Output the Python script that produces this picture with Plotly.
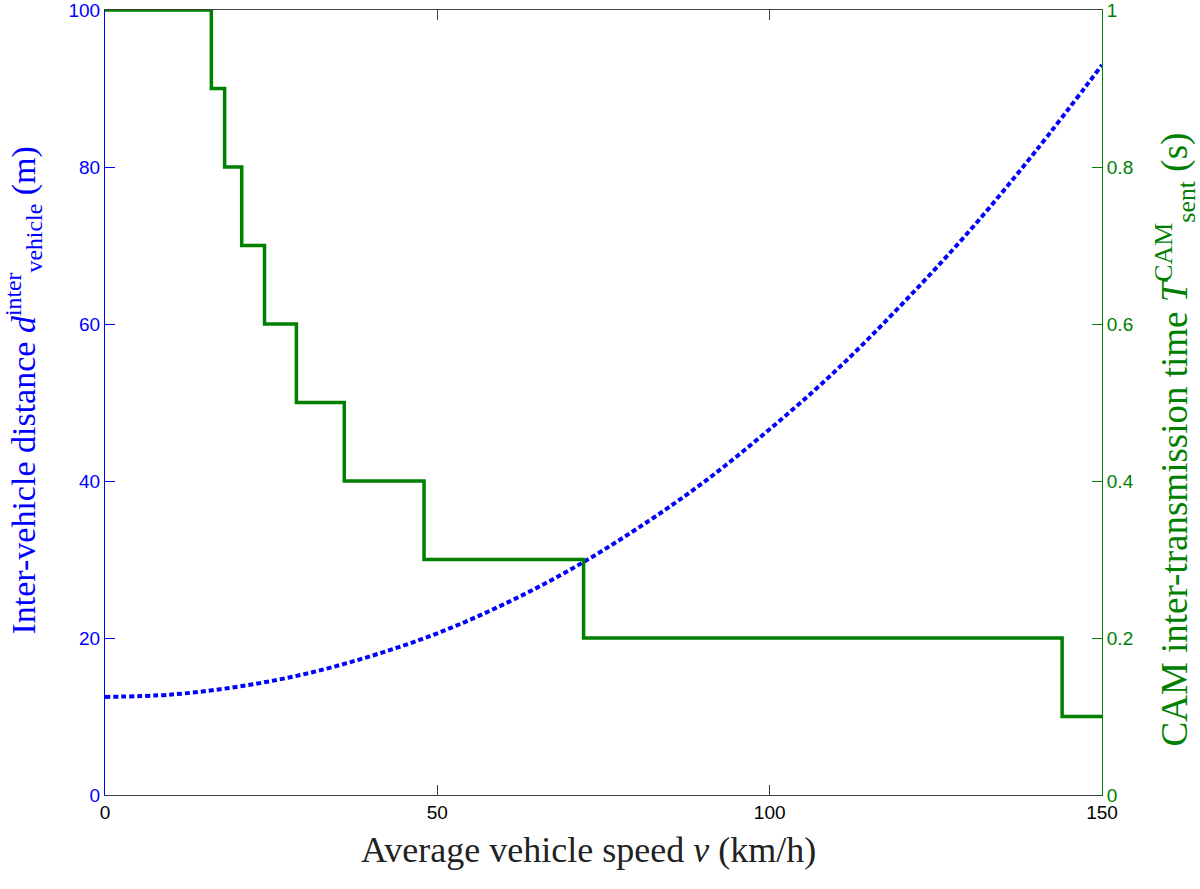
import plotly.graph_objects as go

# average vehicle speed (km/h) sampled for the distance curve
speed = [0, 10, 20, 30, 40, 50, 60, 70, 80, 90, 100, 110, 120, 130, 140, 150]
# inter-vehicle distance (m)
distance = [12.5, 12.8, 13.8, 15.4, 17.7, 20.6, 24.3, 28.7, 33.9, 39.8,
            46.6, 54.1, 62.6, 71.8, 82.0, 93.0]

# CAM inter-transmission time steps: speed where each level starts
step_speed = [0, 16, 18, 20.57, 24, 28.8, 36, 48, 72, 144, 150]
step_time = [1.0, 0.9, 0.8, 0.7, 0.6, 0.5, 0.4, 0.3, 0.2, 0.1, 0.1]

x_ticks = [0, 50, 100, 150]
left_ticks = [0, 20, 40, 60, 80, 100]
right_ticks = [0, 0.2, 0.4, 0.6, 0.8, 1]
right_labels = ["0", "0.2", "0.4", "0.6", "0.8", "1"]

BLUE = "#0000ff"
GREEN = "#008000"
serif = "Liberation Serif"
sans = "Liberation Sans"

fig = go.Figure()

fig.add_trace(go.Scatter(
    x=speed, y=distance, mode="lines", line_shape="spline",
    line=dict(color=BLUE, width=4, dash="5px,3px"), yaxis="y", showlegend=False
))
fig.add_trace(go.Scatter(
    x=step_speed, y=step_time, mode="lines", line_shape="hv",
    line=dict(color=GREEN, width=3.5), yaxis="y2", showlegend=False
))

# axis titles as annotations so they sit where the original puts them
fig.add_annotation(
    text="Inter-vehicle distance <i>d</i><sup>inter</sup><sub>vehicle</sub> (m)",
    xref="paper", yref="paper", x=0, y=0.5, xshift=-82, yshift=12,
    textangle=-90, showarrow=False, xanchor="center", yanchor="middle",
    font=dict(family=serif, size=34, color=BLUE),
)
fig.add_annotation(
    text="CAM inter-transmission time <i>T</i><sup>CAM</sup><sub>sent</sub> (s)",
    xref="paper", yref="paper", x=1, y=0.5, xshift=72, yshift=-37,
    textangle=-90, showarrow=False, xanchor="center", yanchor="middle",
    font=dict(family=serif, size=37, color=GREEN),
)
fig.add_annotation(
    text="Average vehicle speed <i>v</i> (km/h)",
    xref="paper", yref="paper", x=0.5, y=0, xshift=-15, yshift=-55,
    showarrow=False, xanchor="center", yanchor="middle",
    font=dict(family=serif, size=36, color="#222"),
)

fig.update_layout(
    width=1200, height=889,
    margin=dict(l=105, r=98, t=10, b=94),
    paper_bgcolor="white", plot_bgcolor="white",
    xaxis=dict(
        range=[0, 150], tickvals=x_ticks, ticks="inside", ticklen=10,
        tickcolor="#404040", showline=True, linecolor="#404040", linewidth=1,
        mirror="ticks", showgrid=False, zeroline=False, automargin=False,
        ticklabeloverflow="allow",
        tickfont=dict(family=sans, size=19, color="black"),
    ),
    yaxis=dict(
        range=[0, 100], tickvals=left_ticks, ticks="inside", ticklen=10,
        tickcolor=BLUE, showline=True, linecolor=BLUE, linewidth=1,
        showgrid=False, zeroline=False, automargin=False,
        ticklabeloverflow="allow",
        tickfont=dict(family=sans, size=19, color=BLUE),
    ),
    yaxis2=dict(
        range=[0, 1], tickvals=right_ticks, ticktext=right_labels,
        overlaying="y", side="right", ticks="inside", ticklen=10,
        tickcolor=GREEN, showline=True, linecolor=GREEN, linewidth=1,
        showgrid=False, zeroline=False, automargin=False,
        ticklabeloverflow="allow",
        tickfont=dict(family=sans, size=19, color=GREEN),
    ),
)

# drop the page's default body margin so the figure fills the window
fig.write_html("out.html", config={"displayModeBar": False},
               post_script="document.body.style.margin='0px';")
